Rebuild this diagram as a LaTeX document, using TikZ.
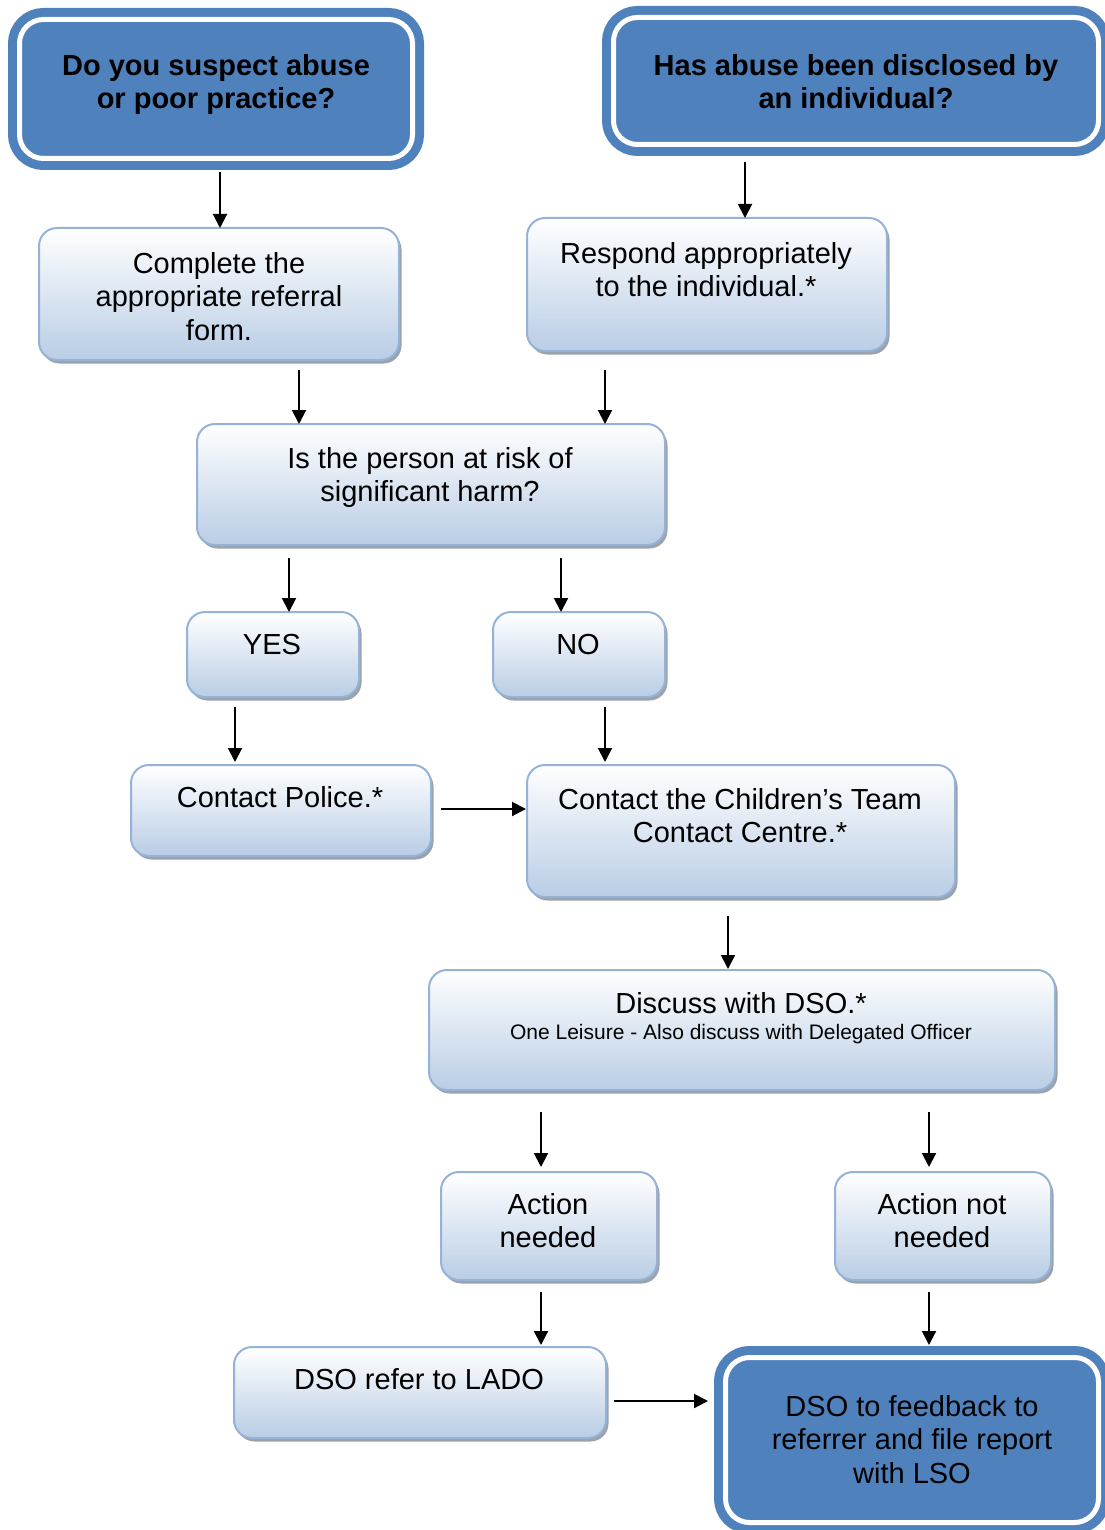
\documentclass[tikz,border=0pt]{standalone}
\usepackage{fontspec}
\setmainfont{Liberation Sans}
\usetikzlibrary{arrows.meta,shadows}
\definecolor{dblue}{HTML}{4F81BD}
\definecolor{lborder}{HTML}{95B3D7}
\definecolor{lbot}{HTML}{B9CDE5}
\definecolor{shgray}{HTML}{9AA2AC}
\newcommand\fmain{\fontsize{29}{33.5}\selectfont}
\newcommand\fsmall{\fontsize{21}{24}\selectfont}
\tikzset{
  lbox/.style={draw=lborder, line width=2pt, rounded corners=18pt, outer sep=0pt,
    top color=white, bottom color=lbot, shading angle=0,
    drop shadow={shadow xshift=2.5pt, shadow yshift=-3.5pt, fill=shgray, opacity=1}},
  dbox/.style={draw=white, line width=5pt, fill=dblue, rounded corners=24pt, outer sep=0pt,
    preaction={draw=dblue, line width=23pt}},
  txt/.style={align=center, font=\fmain, inner sep=0pt, text=black},
  btxt/.style={align=center, font=\fmain\bfseries, inner sep=0pt, text=black},
  arr/.style={-{Triangle[length=14pt,width=14pt]}, line width=2pt, black}
}
\begin{document}
\begin{tikzpicture}[x=1pt,y=-1pt]
\useasboundingbox (0,0) rectangle (1104,1530);
% dark boxes
\node[dbox, minimum width=393pt, minimum height=139pt] (tl) at (216,89) {};
\node[btxt, anchor=north] (tlt) at (216,54) {Do you suspect abuse\\or poor practice?};
\node[dbox, minimum width=485pt, minimum height=127pt] (tr) at (856,81) {};
\node[btxt, anchor=north] (trt) at (856,54) {Has abuse been disclosed by\\an individual?};
% light boxes
\node[lbox, minimum width=360pt, minimum height=132pt] (comp) at (219,294) {};
\node[txt, anchor=north] (compt) at (219,252) {Complete the\\appropriate referral\\form.};
\node[lbox, minimum width=360pt, minimum height=133pt] (resp) at (707,284.5) {};
\node[txt, anchor=north] (respt) at (706,242) {Respond appropriately\\to the individual.*};
\node[lbox, minimum width=468pt, minimum height=121pt] (risk) at (431,484.5) {};
\node[txt, anchor=north] (riskt) at (430,447) {Is the person at risk of\\significant harm?};
\node[lbox, minimum width=172pt, minimum height=85pt] (yes) at (273,654.5) {};
\node[txt, anchor=base] (yest) at (272,654.5) {YES};
\node[lbox, minimum width=172pt, minimum height=85pt] (no) at (579,654.5) {};
\node[txt, anchor=base] (not) at (578,654.5) {NO};
\node[lbox, minimum width=300pt, minimum height=91pt] (pol) at (281,810.5) {};
\node[txt, anchor=base] (polt) at (280,807.5) {Contact Police.*};
\node[lbox, minimum width=428pt, minimum height=132pt] (child) at (741,831) {};
\node[txt, anchor=north] (childt) at (740,788) {Contact the Children’s Team\\Contact Centre.*};
\node[lbox, minimum width=626pt, minimum height=120pt] (disc) at (742,1030) {};
\node[txt, anchor=base] (disct) at (741,1013.5) {Discuss with DSO.*};
\node[txt, font=\fsmall, anchor=base] (discs) at (741,1039.5) {One Leisure - Also discuss with Delegated Officer};
\node[lbox, minimum width=216pt, minimum height=108pt] (an) at (549,1226) {};
\node[txt, anchor=north] (ant) at (548,1193) {Action\\needed};
\node[lbox, minimum width=216pt, minimum height=108pt] (ann) at (943,1226) {};
\node[txt, anchor=north] (annt) at (942,1193) {Action not\\needed};
\node[lbox, minimum width=372pt, minimum height=91pt] (lado) at (420,1392.5) {};
\node[txt, anchor=base] (ladot) at (419,1389.5) {DSO refer to LADO};
\node[dbox, minimum width=373pt, minimum height=165pt] (fb) at (912,1440) {};
\node[txt, anchor=north] (fbt) at (912,1395) {DSO to feedback to\\referrer and file report\\with LSO};
% arrows
\draw[arr, shorten <=13.5pt] (tl.south -| 220,0) -- (comp.north -| 220,0);
\draw[arr, shorten <=17.5pt] (tr.south -| 745,0) -- (resp.north -| 745,0);
\draw[arr, shorten <=10pt] (comp.south -| 299,0) -- (risk.north -| 299,0);
\draw[arr, shorten <=19pt] (resp.south -| 605,0) -- (risk.north -| 605,0);
\draw[arr, shorten <=13pt] (risk.south -| 289,0) -- (yes.north -| 289,0);
\draw[arr, shorten <=13pt] (risk.south -| 561,0) -- (no.north -| 561,0);
\draw[arr, shorten <=10pt, shorten >=3pt] (yes.south -| 235,0) -- (pol.north -| 235,0);
\draw[arr, shorten <=10pt, shorten >=3pt] (no.south -| 605,0) -- (child.north -| 605,0);
\draw[arr, shorten <=10pt, shorten >=1pt] (pol.east |- 0,809) -- (child.west |- 0,809);
\draw[arr, shorten <=19pt, shorten >=1pt] (child.south -| 728,0) -- (disc.north -| 728,0);
\draw[arr, shorten <=22pt, shorten >=5pt] (disc.south -| 541,0) -- (an.north -| 541,0);
\draw[arr, shorten <=22pt, shorten >=5pt] (disc.south -| 929,0) -- (ann.north -| 929,0);
\draw[arr, shorten <=12pt, shorten >=2pt] (an.south -| 541,0) -- (lado.north -| 541,0);
\draw[arr, shorten <=12pt, shorten >=12.5pt] (ann.south -| 929,0) -- (fb.north -| 929,0);
\draw[arr, shorten <=8pt, shorten >=17.5pt] (lado.east |- 0,1401) -- (fb.west |- 0,1401);
\end{tikzpicture}
\end{document}
